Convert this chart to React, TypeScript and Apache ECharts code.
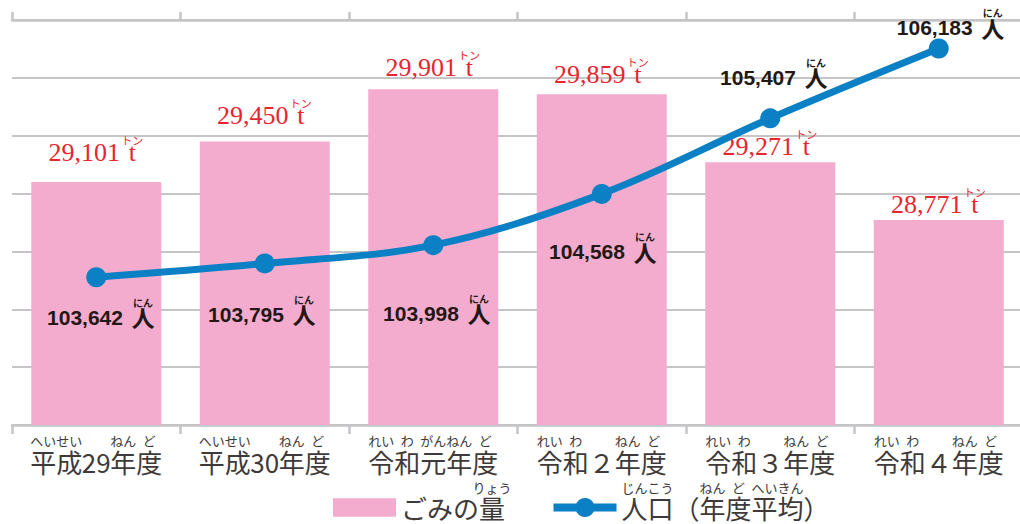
import React, { useEffect, useRef } from 'react';
import * as echarts from 'echarts';

// ---- data ----
const categories = ['平成29年度', '平成30年度', '令和元年度', '令和２年度', '令和３年度', '令和４年度'];
const categoryRuby: [string, string][][] = [
  [['平成', 'へいせい'], ['29', ''], ['年', 'ねん'], ['度', 'ど']],
  [['平成', 'へいせい'], ['30', ''], ['年', 'ねん'], ['度', 'ど']],
  [['令', 'れい'], ['和', 'わ'], ['元', 'がん'], ['年', 'ねん'], ['度', 'ど']],
  [['令', 'れい'], ['和', 'わ'], ['２', ''], ['年', 'ねん'], ['度', 'ど']],
  [['令', 'れい'], ['和', 'わ'], ['３', ''], ['年', 'ねん'], ['度', 'ど']],
  [['令', 'れい'], ['和', 'わ'], ['４', ''], ['年', 'ねん'], ['度', 'ど']],
];
const wasteValues = [29101, 29450, 29901, 29859, 29271, 28771];
const populationValues = [103642, 103795, 103998, 104568, 105407, 106183];
const wasteUnit = 't';
const wasteUnitRuby = 'トン';
const popUnit = '人';
const popUnitRuby = 'にん';
const legendNames = ['ごみの量', '人口（年度平均）'];
const legendRuby: [string, string][][] = [
  [['ごみの', ''], ['量', 'りょう']],
  [['人口', 'じんこう'], ['（', ''], ['年', 'ねん'], ['度', 'ど'], ['平', 'へい'], ['均', 'きん'], ['）', '']],
];

// ---- label placement (styling, not data) ----
const barLabelDistance = [20.8, 18, 13.2, 10.7, 7, 7.5];
const popLabelOffsetX = [8.75, 1.25, 7.75, 5.25, 7.75, 16];
const popLabelOffsetY = [40, 51, 68, 58, -41, -21];

const CJK = "'Noto Sans CJK JP', 'Noto Sans', sans-serif";
const SERIF = "'Liberation Serif', 'DejaVu Serif', serif";
const SANS = "'Liberation Sans', Arial, sans-serif";
const RED = '#e8252e';
const DARK = '#231815';
const GRAY_TEXT = '#3e3a39';
const PINK = '#f4acce';
const BLUE = '#0b80c4';
const GRID = '#c5c5c8';

const fmt = (v: number) => v.toLocaleString('en-US');

let measureCtx: CanvasRenderingContext2D | null = null;
function measure(text: string, font: string) {
  if (!measureCtx) measureCtx = document.createElement('canvas').getContext('2d');
  measureCtx!.font = font;
  return Math.ceil(measureCtx!.measureText(text).width);
}

const segWidth = (s: string, cjk: number, ascii: number) =>
  Array.from(s).reduce((a, c) => a + (c.charCodeAt(0) < 128 ? ascii : cjk), 0);

function rubyString(segs: [string, string][], bp: string, rp: string, cjk: number, ascii: number) {
  const top = segs.map(([b, r]) => `{${rp}${segWidth(b, cjk, ascii)}|${r || ' '}}`).join('');
  const bottom = segs.map(([b]) => `{${bp}${segWidth(b, cjk, ascii)}|${b}}`).join('');
  return top + '\n' + bottom;
}

function rubyStyles(all: [string, string][][], bp: string, rp: string, base: any, ruby: any, cjk: number, ascii: number) {
  const rich: Record<string, any> = {};
  all.forEach((segs) =>
    segs.forEach(([b]) => {
      const w = segWidth(b, cjk, ascii);
      rich[bp + w] = { ...base, width: w, align: 'center' };
      rich[rp + w] = { ...ruby, width: w, align: 'center' };
    })
  );
  return rich;
}

export default function App() {
  const ref = useRef<HTMLDivElement>(null);

  useEffect(() => {
    document.body.style.margin = '0';
    const chart = echarts.init(ref.current!, undefined, { renderer: 'svg' });

    const axisRich = rubyStyles(
      categoryRuby, 'b', 'r',
      { fontFamily: CJK, fontSize: 26, lineHeight: 28, color: GRAY_TEXT },
      { fontFamily: CJK, fontSize: 13, lineHeight: 14, color: GRAY_TEXT },
      26, 14
    );
    const legendRich = rubyStyles(
      legendRuby, 'lb', 'lr',
      { fontFamily: CJK, fontSize: 26, lineHeight: 26, color: GRAY_TEXT },
      { fontFamily: CJK, fontSize: 13, lineHeight: 14, color: GRAY_TEXT },
      26, 14
    );

    const wasteNumW = Math.max(...wasteValues.map((v) => measure(fmt(v), `26px ${SERIF}`)));
    const popNumW = Math.max(...populationValues.map((v) => measure(fmt(v), `bold 21px ${SANS}`)));

    chart.setOption({
      animation: false,
      backgroundColor: '#ffffff',
      grid: { left: 12, top: 20, width: 1011, height: 405, outerBoundsMode: 'none' },
      legend: {
        left: 333,
        top: 481,
        padding: 0,
        itemWidth: 63,
        itemHeight: 24,
        itemGap: 38,
        symbolKeepAspect: true,
        data: [
          { name: legendNames[0], icon: 'path://M0 0H61V18H0Z' },
          { name: legendNames[1], lineStyle: { width: 8 } },
        ],
        formatter: (name: string) => rubyString(legendRuby[legendNames.indexOf(name)], 'lb', 'lr', 26, 14),
        textStyle: { padding: [0, 0, 14, 0], rich: legendRich },
      },
      xAxis: [
        {
          type: 'category',
          data: categories,
          position: 'bottom',
          axisLine: { lineStyle: { color: GRID, width: 2.5 } },
          axisTick: { show: true, length: 9, lineStyle: { color: GRID, width: 2.5 } },
          axisLabel: {
            interval: 0,
            margin: 8,
            formatter: (v: string) => rubyString(categoryRuby[categories.indexOf(v)], 'b', 'r', 26, 14),
            rich: axisRich,
          },
        },
        {
          type: 'category',
          data: categories,
          position: 'top',
          axisLine: { lineStyle: { color: GRID, width: 2.5 } },
          axisTick: { show: true, length: 8, lineStyle: { color: GRID, width: 2.5 } },
          axisLabel: { show: false },
        },
      ],
      yAxis: [
        {
          type: 'value',
          min: 27000,
          max: 30500,
          interval: 500,
          axisLabel: { show: false },
          axisLine: { show: false },
          axisTick: { show: false },
          splitLine: { lineStyle: { color: GRID, width: 2 } },
        },
        {
          type: 'value',
          min: 102000,
          max: 106500,
          axisLabel: { show: false },
          axisLine: { show: false },
          axisTick: { show: false },
          splitLine: { show: false },
        },
      ],
      series: [
        {
          name: legendNames[0],
          type: 'bar',
          xAxisIndex: 0,
          yAxisIndex: 0,
          barWidth: 130,
          itemStyle: { color: PINK },
          data: wasteValues.map((v, i) => ({ value: v, label: { distance: barLabelDistance[i] } })),
          label: {
            show: true,
            position: 'top',
            formatter: (p: any) => `{g| }{rt|${wasteUnitRuby}}\n{v|${fmt(p.value)}}{u|${wasteUnit}}`,
            rich: {
              g: { fontSize: 8, lineHeight: 8, width: wasteNumW, align: 'center' },
              rt: { fontFamily: CJK, fontSize: 11, lineHeight: 8, width: 24, align: 'center', color: RED },
              v: { fontFamily: SERIF, fontSize: 26, lineHeight: 17, width: wasteNumW, align: 'center', color: RED },
              u: { fontFamily: SERIF, fontSize: 26, lineHeight: 17, width: 24, align: 'center', color: RED },
            },
          },
        },
        {
          name: legendNames[1],
          type: 'line',
          xAxisIndex: 0,
          yAxisIndex: 1,
          smooth: 0.35,
          symbol: 'circle',
          symbolSize: 20,
          itemStyle: { color: BLUE },
          lineStyle: { color: BLUE, width: 7 },
          data: populationValues.map((v, i) => ({
            value: v,
            label: { offset: [popLabelOffsetX[i], popLabelOffsetY[i] - 5] },
          })),
          label: {
            show: true,
            position: 'inside',
            formatter: (p: any) => `{g| }{rt|${popUnitRuby}}\n{v|${fmt(p.value)}}{u|${popUnit}}`,
            rich: {
              g: { fontSize: 8, lineHeight: 10, width: popNumW, align: 'center' },
              rt: { fontFamily: CJK, fontSize: 10, fontWeight: 'bold', lineHeight: 10, width: 40, align: 'center', color: DARK },
              v: { fontFamily: SANS, fontSize: 21, fontWeight: 'bold', lineHeight: 20, width: popNumW, align: 'center', color: DARK },
              u: { fontFamily: CJK, fontSize: 23, fontWeight: 'bold', lineHeight: 20, width: 40, align: 'center', color: DARK },
            },
          },
        },
      ],
    });

    return () => chart.dispose();
  }, []);

  return <div ref={ref} style={{ position: 'fixed', left: 0, top: 0, width: 1020, height: 524, background: '#fff' }} />;
}
